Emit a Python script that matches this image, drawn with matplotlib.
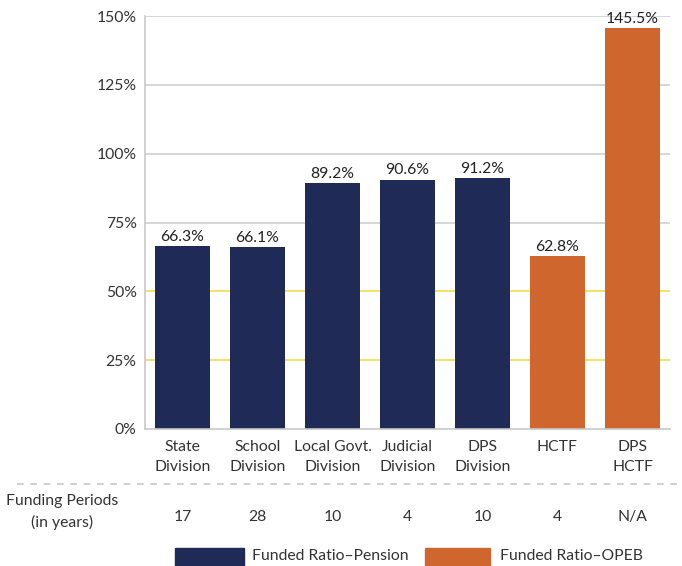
import matplotlib
matplotlib.use("Agg")
import matplotlib.pyplot as plt
import matplotlib.patches as mpatch
import matplotlib.transforms as mtrans

plt.rcParams['font.family'] = ['Lato', 'DejaVu Sans']

# data
categories = ["State\nDivision", "School\nDivision", "Local Govt.\nDivision", "Judicial\nDivision",
              "DPS\nDivision", "HCTF", "DPS\nHCTF"]
funded = [66.3, 66.1, 89.2, 90.6, 91.2, 62.8, 145.5]
kind = ["Pension", "Pension", "Pension", "Pension", "Pension", "OPEB", "OPEB"]
periods = ["17", "28", "10", "4", "10", "4", "N/A"]
yticks = [0, 25, 50, 75, 100, 125, 150]

navy = "#202a56"
orange = "#cf662d"
colors = [navy if k == "Pension" else orange for k in kind]

W, H = 682, 566
fs = 11.3
fig = plt.figure(figsize=(W/100, H/100), dpi=100)
ax = fig.add_axes([145/W, 1-429/H, 525/W, 413/H])

x = list(range(len(categories)))
for yt in yticks[1:]:
    c = "#f2dd4c" if yt in (25, 50) else "#d0d0d0"
    ax.axhline(yt, color=c, lw=1.2, zorder=0)

ax.bar(x, funded, 0.735, color=colors, zorder=2)
for i, v in enumerate(funded):
    ax.text(i, v+0.8, "%.1f%%" % v, ha="center", va="bottom", fontsize=fs, color="#222222")

ax.set_xlim(-0.5, len(categories)-0.5)
ax.set_ylim(0, 150)
ax.set_yticks(yticks)
ax.set_yticklabels(["%d%%" % t for t in yticks], fontsize=fs, color="#333333")
ax.set_xticks(x)
ax.set_xticklabels(categories, fontsize=fs, color="#333333", linespacing=1.5)
ax.tick_params(length=0, pad=6)
ax.tick_params(axis='x', pad=8)
for s in ["top", "right"]:
    ax.spines[s].set_visible(False)
for s in ["left", "bottom"]:
    ax.spines[s].set_color("#c8c8c8")
    ax.spines[s].set_linewidth(1.2)

# dashed separator
fig.add_artist(plt.Line2D([17/W, 1.0], [1-484/H, 1-484/H], transform=fig.transFigure,
                          color="#c8c8c8", lw=1.2, ls=(0, (4, 4))))

# funding periods row
trans = mtrans.blended_transform_factory(ax.transData, fig.transFigure)
for i, p in enumerate(periods):
    ax.text(i, 1-517/H, p, transform=trans, ha="center", va="center", fontsize=fs, color="#333333")
fig.text(62/W, 1-512/H, "Funding Periods\n(in years)", ha="center", va="center",
         fontsize=fs, color="#333333", linespacing=1.5)

# legend
fig.add_artist(mpatch.Rectangle((175/W, 0), 69/W, 18/H, transform=fig.transFigure, color=navy))
fig.text(252/W, 1-556/H, "Funded Ratio\u2013Pension", ha="left", va="center", fontsize=fs, color="#333333")
fig.add_artist(mpatch.Rectangle((425/W, 0), 65/W, 18/H, transform=fig.transFigure, color=orange))
fig.text(500/W, 1-556/H, "Funded Ratio\u2013OPEB", ha="left", va="center", fontsize=fs, color="#333333")

fig.savefig("out.png", dpi=100)
